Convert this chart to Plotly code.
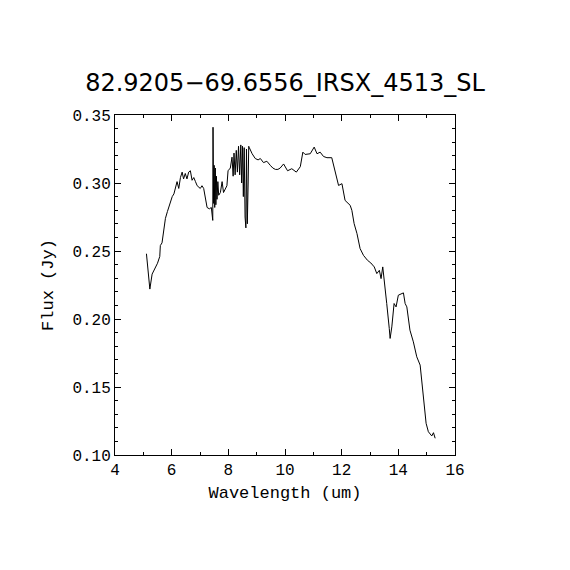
import plotly.graph_objects as go

title_text = "82.9205\u221269.6556_IRSX_4513_SL"

wavelength = [
    5.11, 5.23, 5.31, 5.43, 5.50, 5.58, 5.60, 5.66, 5.72, 5.78, 5.85, 5.93, 6.02, 6.08, 6.13,
    6.19, 6.25, 6.31, 6.37, 6.42, 6.48, 6.54, 6.60, 6.66, 6.72, 6.78, 6.84, 6.90,
    7.01, 7.07, 7.13, 7.19, 7.25, 7.33, 7.40, 7.45, 7.46, 7.48, 7.50, 7.52, 7.54,
    7.56, 7.58, 7.60, 7.63, 7.66, 7.72, 7.78, 7.83, 7.95, 7.99, 8.07, 8.13,
    8.17, 8.20, 8.24, 8.28, 8.32, 8.36, 8.40, 8.44, 8.47, 8.50, 8.53, 8.56, 8.59,
    8.62, 8.64, 8.67, 8.70, 8.72, 8.74, 8.84, 8.95, 9.05, 9.13, 9.24, 9.36, 9.48,
    9.57, 9.66, 9.75, 9.83, 9.95, 10.09, 10.24, 10.40, 10.54, 10.63, 10.71, 10.89,
    11.03, 11.13, 11.24, 11.36, 11.48, 11.65, 11.77, 11.89, 12.01, 12.12, 12.30,
    12.36, 12.44, 12.54, 12.65, 12.77, 12.91, 13.03, 13.15, 13.24, 13.33, 13.39,
    13.45, 13.50, 13.59, 13.68, 13.71, 13.77, 13.85, 13.92, 14.00, 14.18, 14.24,
    14.30, 14.41, 14.53, 14.65, 14.77, 14.88, 14.98, 15.06, 15.18, 15.24, 15.30,
]

flux = [
    0.248, 0.222, 0.233, 0.238, 0.241, 0.246, 0.254, 0.256, 0.265, 0.274, 0.279, 0.285, 0.290, 0.292, 0.297,
    0.301, 0.296, 0.304, 0.308, 0.303, 0.307, 0.303, 0.308, 0.309, 0.302, 0.304, 0.301, 0.298,
    0.296, 0.298, 0.296, 0.290, 0.282, 0.281, 0.282, 0.2725, 0.341, 0.285, 0.313, 0.282, 0.311,
    0.284, 0.305, 0.288, 0.301, 0.291, 0.293, 0.301, 0.293, 0.298, 0.309, 0.311, 0.319,
    0.305, 0.322, 0.306, 0.324, 0.308, 0.327, 0.306, 0.328, 0.300, 0.327, 0.290, 0.326, 0.275,
    0.267, 0.325, 0.270, 0.300, 0.327, 0.326, 0.3215, 0.318, 0.317, 0.318, 0.315, 0.316, 0.313,
    0.311, 0.310, 0.310, 0.311, 0.314, 0.309, 0.3105, 0.308, 0.312, 0.3227, 0.321, 0.3215,
    0.3264, 0.3215, 0.3227, 0.3195, 0.3186, 0.3186, 0.3073, 0.2982, 0.2995, 0.2872, 0.2836,
    0.2799, 0.2701, 0.2628, 0.2518, 0.2468, 0.2432, 0.2412, 0.2383, 0.2334, 0.2358, 0.2297,
    0.2383, 0.2297, 0.2114, 0.1930, 0.1857, 0.1942, 0.2114, 0.2089, 0.2175, 0.2192, 0.2114,
    0.2089, 0.1918, 0.1832, 0.1722, 0.1661, 0.1428, 0.1233, 0.1171, 0.1140, 0.1164, 0.1123,
]

x_ticks = [4, 6, 8, 10, 12, 14, 16]
y_ticks = [0.10, 0.15, 0.20, 0.25, 0.30, 0.35]
y_tick_labels = ["0.10", "0.15", "0.20", "0.25", "0.30", "0.35"]

fig = go.Figure()
fig.add_trace(go.Scatter(x=wavelength, y=flux, mode="lines",
                         line=dict(color="black", width=1), showlegend=False))

label_font = "Liberation Mono"
axis_common = dict(
    showline=True, linecolor="black", linewidth=1, mirror="ticks",
    ticks="inside", ticklen=6, tickwidth=1, tickcolor="black",
    showgrid=False, zeroline=False,
    tickfont=dict(family=label_font, size=16, color="black"),
)

fig.update_xaxes(
    range=[4, 16], tickvals=x_ticks, ticktext=[str(v) for v in x_ticks],
    minor=dict(dtick=1, ticks="inside", ticklen=3, tickcolor="black", showgrid=False),
    title=dict(text="Wavelength (um)", font=dict(family=label_font, size=17, color="black"), standoff=6),
    **axis_common,
)
fig.update_yaxes(
    range=[0.10, 0.35], tickvals=y_ticks, ticktext=y_tick_labels,
    minor=dict(dtick=0.01, ticks="inside", ticklen=3, tickcolor="black", showgrid=False),
    title=dict(text="Flux (Jy)", font=dict(family=label_font, size=17, color="black"), standoff=14),
    **axis_common,
)

# the page body adds an 8px offset, so margins are shifted accordingly
fig.update_layout(
    width=570, height=570,
    margin=dict(l=106.5, r=123, t=106.5, b=123, autoexpand=False),
    paper_bgcolor="white", plot_bgcolor="white",
    title=dict(text=title_text, x=(285 - 8) / 570, xanchor="center", y=1 - 75 / 570, yanchor="middle",
               font=dict(family="DejaVu Sans", size=24, color="black")),
)

fig.write_html("out.html")
